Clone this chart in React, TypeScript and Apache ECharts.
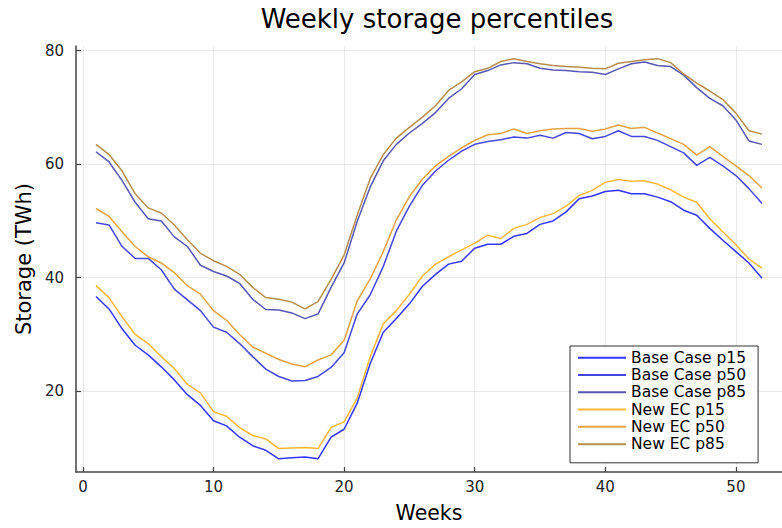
import React, { useEffect, useRef } from "react";
import * as echarts from "echarts";

const weeks = Array.from({ length: 52 }, (_, i) => i + 1);

const baseP15 = [36.7, 34.5, 31.0, 28.1, 26.4, 24.3, 22.0, 19.4, 17.5, 14.8, 13.9, 11.9, 10.4, 9.6, 8.1, 8.3, 8.4, 8.1, 11.9, 13.3, 17.9, 24.9, 30.4, 32.8, 35.4, 38.5, 40.6, 42.4, 42.9, 45.2, 45.9, 45.9, 47.3, 47.8, 49.4, 50.0, 51.6, 53.9, 54.4, 55.2, 55.4, 54.8, 54.8, 54.2, 53.4, 51.9, 51.0, 48.7, 46.6, 44.6, 42.6, 39.9];
const baseP50 = [49.7, 49.3, 45.5, 43.4, 43.4, 41.4, 38.0, 36.1, 34.2, 31.3, 30.4, 28.4, 26.1, 23.9, 22.6, 21.8, 21.9, 22.6, 24.2, 26.8, 33.6, 37.0, 42.0, 48.2, 52.6, 56.3, 58.8, 60.7, 62.3, 63.5, 64.0, 64.3, 64.8, 64.6, 65.1, 64.6, 65.6, 65.4, 64.5, 64.9, 65.9, 64.9, 64.9, 64.2, 63.1, 62.0, 59.8, 61.2, 59.7, 58.0, 55.7, 53.1];
const baseP85 = [62.2, 60.4, 57.1, 53.3, 50.4, 50.0, 47.2, 45.5, 42.2, 41.1, 40.3, 39.0, 36.2, 34.4, 34.3, 33.8, 32.8, 33.6, 38.3, 42.6, 49.9, 56.0, 60.6, 63.5, 65.5, 67.2, 69.1, 71.6, 73.3, 75.8, 76.5, 77.5, 77.9, 77.7, 76.9, 76.6, 76.5, 76.3, 76.2, 75.8, 76.8, 77.7, 78.0, 77.4, 77.2, 75.7, 73.5, 71.6, 70.3, 67.8, 64.1, 63.5];
const necP15 = [38.6, 36.5, 33.1, 30.0, 28.4, 26.1, 24.0, 21.2, 19.7, 16.4, 15.6, 13.6, 12.2, 11.6, 9.9, 10.0, 10.1, 9.9, 13.6, 14.6, 18.8, 26.1, 31.9, 34.2, 37.1, 40.3, 42.4, 43.7, 44.9, 46.1, 47.5, 46.9, 48.7, 49.4, 50.6, 51.3, 52.6, 54.5, 55.4, 56.8, 57.3, 57.0, 57.1, 56.5, 55.5, 54.2, 53.3, 50.4, 48.1, 45.8, 43.3, 41.7];
const necP50 = [52.2, 50.8, 48.1, 45.5, 43.7, 42.6, 40.9, 38.6, 37.1, 34.2, 32.5, 30.0, 27.8, 26.7, 25.6, 24.8, 24.3, 25.5, 26.4, 29.0, 35.9, 39.8, 44.6, 50.2, 54.3, 57.4, 59.7, 61.4, 62.9, 64.2, 65.2, 65.4, 66.2, 65.4, 65.9, 66.2, 66.3, 66.3, 65.8, 66.2, 66.9, 66.3, 66.5, 65.5, 64.5, 63.5, 61.6, 63.1, 61.4, 59.7, 58.0, 55.8];
const necP85 = [63.5, 61.7, 58.8, 54.8, 52.3, 51.4, 49.3, 46.7, 44.3, 43.0, 42.0, 40.6, 38.3, 36.5, 36.2, 35.7, 34.5, 35.8, 39.7, 44.0, 51.0, 57.5, 61.7, 64.6, 66.5, 68.3, 70.3, 73.0, 74.5, 76.3, 76.9, 78.1, 78.6, 78.1, 77.7, 77.4, 77.2, 77.1, 76.9, 76.8, 77.8, 78.1, 78.4, 78.6, 77.9, 75.9, 74.3, 72.9, 71.4, 69.0, 65.9, 65.3];

const seriesNames = ["Base Case p15", "Base Case p50", "Base Case p85", "New EC p15", "New EC p50", "New EC p85"];
const seriesValues = [baseP15, baseP50, baseP85, necP15, necP50, necP85];
const seriesColors = ["#3434ff", "#4646e0", "#5757b4", "#ffb836", "#e3a443", "#b38e4f"];

const xTicks = [0, 10, 20, 30, 40, 50];
const yTicks = [20, 40, 60, 80];

const FONT = "DejaVu Sans";

export default function App() {
  const ref = useRef<HTMLDivElement>(null);
  useEffect(() => {
    if (!ref.current) return;
    const chart = echarts.init(ref.current, null, { renderer: "svg" });
    const axisCommon = {
      axisLine: { show: true, onZero: false, lineStyle: { color: "#444", width: 1.5 } },
      axisTick: { show: true, inside: true, length: 5, lineStyle: { color: "#444", width: 1.2 } },
      splitLine: { show: true, lineStyle: { color: "rgba(0,0,0,0.08)", width: 1 } },
    };
    chart.setOption({
      animation: false,
      backgroundColor: "#fff",
      title: {
        text: "Weekly storage percentiles",
        left: 432,
        top: 1,
        textAlign: "center",
        textStyle: { fontFamily: FONT, fontSize: 26, fontWeight: "normal", color: "#000" },
      },
      legend: {
        orient: "vertical",
        left: 570,
        top: 346,
        padding: [3, 12, 10, 8],
        itemWidth: 48,
        itemHeight: 2,
        itemGap: 0,
        icon: "rect",
        backgroundColor: "#fff",
        borderColor: "#333",
        borderWidth: 1,
        borderRadius: 0,
        textStyle: { fontFamily: FONT, fontSize: 15.5, color: "#000", lineHeight: 17.3 },
        data: seriesNames,
      },
      grid: { left: 76, top: 46, right: -5, bottom: 51, containLabel: false },
      xAxis: {
        type: "value",
        min: -0.53,
        max: 53.53,
        name: "Weeks",
        nameLocation: "middle",
        nameGap: 30,
        nameTextStyle: { fontFamily: FONT, fontSize: 20.5, color: "#000" },
        ...axisCommon,
        axisTick: { ...axisCommon.axisTick, customValues: xTicks },
        axisLabel: { customValues: xTicks, fontFamily: FONT, fontSize: 15, color: "#222", margin: 7 },
      },
      yAxis: {
        type: "value",
        min: 5.77,
        max: 80.83,
        name: "Storage (TWh)",
        nameLocation: "middle",
        nameGap: 42,
        nameTextStyle: { fontFamily: FONT, fontSize: 21, color: "#000" },
        ...axisCommon,
        axisTick: { ...axisCommon.axisTick, customValues: yTicks },
        axisLabel: { customValues: yTicks, fontFamily: FONT, fontSize: 15, color: "#222", margin: 12 },
      },
      series: seriesNames.map((name, i) => ({
        name,
        type: "line",
        data: weeks.map((w, j) => [w, seriesValues[i][j]]),
        showSymbol: false,
        symbol: "none",
        color: seriesColors[i],
        lineStyle: { width: 1.5, color: seriesColors[i] },
      })),
    });
    return () => chart.dispose();
  }, []);
  return <div ref={ref} style={{ position: "absolute", left: 0, top: 0, width: 782, height: 528 }} />;
}
